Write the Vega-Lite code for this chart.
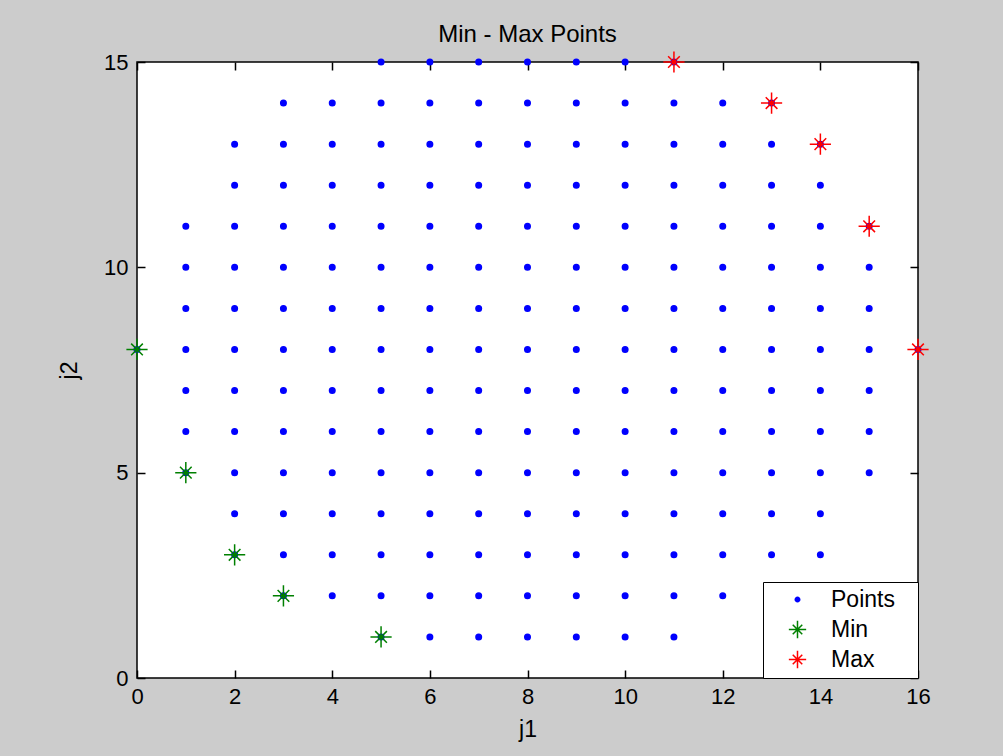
{
  "$schema": "https://vega.github.io/schema/vega-lite/v6.json",
  "width": 781,
  "height": 616,
  "autosize": "none",
  "padding": {"left": 137, "top": 62, "right": 85, "bottom": 78},
  "background": "#CCCCCC",
  "title": {"text": "Min - Max Points", "fontSize": 24, "fontWeight": "normal", "font": "Liberation Sans", "color": "#000000", "offset": 1},
  "config": {
    "view": {"fill": "#FFFFFF", "stroke": "#000000", "strokeWidth": 1.5},
    "axis": {
      "domainColor": "#000000", "domainWidth": 1.5, "tickColor": "#000000", "tickWidth": 1.5,
      "tickSize": -8, "grid": false, "labelFlush": false, "labelFont": "Liberation Sans", "labelFontSize": 22,
      "labelColor": "#000000", "titleFont": "Liberation Sans", "titleFontSize": 23,
      "titleFontWeight": "normal", "titleColor": "#000000"
    }
  },
  "data": {"values": [
    {"j1": 0, "j2": 8, "series": "Points"},
    {"j1": 1, "j2": 5, "series": "Points"}, {"j1": 1, "j2": 6, "series": "Points"}, {"j1": 1, "j2": 7, "series": "Points"}, {"j1": 1, "j2": 8, "series": "Points"}, {"j1": 1, "j2": 9, "series": "Points"}, {"j1": 1, "j2": 10, "series": "Points"}, {"j1": 1, "j2": 11, "series": "Points"},
    {"j1": 2, "j2": 3, "series": "Points"}, {"j1": 2, "j2": 4, "series": "Points"}, {"j1": 2, "j2": 5, "series": "Points"}, {"j1": 2, "j2": 6, "series": "Points"}, {"j1": 2, "j2": 7, "series": "Points"}, {"j1": 2, "j2": 8, "series": "Points"}, {"j1": 2, "j2": 9, "series": "Points"}, {"j1": 2, "j2": 10, "series": "Points"}, {"j1": 2, "j2": 11, "series": "Points"}, {"j1": 2, "j2": 12, "series": "Points"}, {"j1": 2, "j2": 13, "series": "Points"},
    {"j1": 3, "j2": 2, "series": "Points"}, {"j1": 3, "j2": 3, "series": "Points"}, {"j1": 3, "j2": 4, "series": "Points"}, {"j1": 3, "j2": 5, "series": "Points"}, {"j1": 3, "j2": 6, "series": "Points"}, {"j1": 3, "j2": 7, "series": "Points"}, {"j1": 3, "j2": 8, "series": "Points"}, {"j1": 3, "j2": 9, "series": "Points"}, {"j1": 3, "j2": 10, "series": "Points"}, {"j1": 3, "j2": 11, "series": "Points"}, {"j1": 3, "j2": 12, "series": "Points"}, {"j1": 3, "j2": 13, "series": "Points"}, {"j1": 3, "j2": 14, "series": "Points"},
    {"j1": 4, "j2": 2, "series": "Points"}, {"j1": 4, "j2": 3, "series": "Points"}, {"j1": 4, "j2": 4, "series": "Points"}, {"j1": 4, "j2": 5, "series": "Points"}, {"j1": 4, "j2": 6, "series": "Points"}, {"j1": 4, "j2": 7, "series": "Points"}, {"j1": 4, "j2": 8, "series": "Points"}, {"j1": 4, "j2": 9, "series": "Points"}, {"j1": 4, "j2": 10, "series": "Points"}, {"j1": 4, "j2": 11, "series": "Points"}, {"j1": 4, "j2": 12, "series": "Points"}, {"j1": 4, "j2": 13, "series": "Points"}, {"j1": 4, "j2": 14, "series": "Points"},
    {"j1": 5, "j2": 1, "series": "Points"}, {"j1": 5, "j2": 2, "series": "Points"}, {"j1": 5, "j2": 3, "series": "Points"}, {"j1": 5, "j2": 4, "series": "Points"}, {"j1": 5, "j2": 5, "series": "Points"}, {"j1": 5, "j2": 6, "series": "Points"}, {"j1": 5, "j2": 7, "series": "Points"}, {"j1": 5, "j2": 8, "series": "Points"}, {"j1": 5, "j2": 9, "series": "Points"}, {"j1": 5, "j2": 10, "series": "Points"}, {"j1": 5, "j2": 11, "series": "Points"}, {"j1": 5, "j2": 12, "series": "Points"}, {"j1": 5, "j2": 13, "series": "Points"}, {"j1": 5, "j2": 14, "series": "Points"}, {"j1": 5, "j2": 15, "series": "Points"},
    {"j1": 6, "j2": 1, "series": "Points"}, {"j1": 6, "j2": 2, "series": "Points"}, {"j1": 6, "j2": 3, "series": "Points"}, {"j1": 6, "j2": 4, "series": "Points"}, {"j1": 6, "j2": 5, "series": "Points"}, {"j1": 6, "j2": 6, "series": "Points"}, {"j1": 6, "j2": 7, "series": "Points"}, {"j1": 6, "j2": 8, "series": "Points"}, {"j1": 6, "j2": 9, "series": "Points"}, {"j1": 6, "j2": 10, "series": "Points"}, {"j1": 6, "j2": 11, "series": "Points"}, {"j1": 6, "j2": 12, "series": "Points"}, {"j1": 6, "j2": 13, "series": "Points"}, {"j1": 6, "j2": 14, "series": "Points"}, {"j1": 6, "j2": 15, "series": "Points"},
    {"j1": 7, "j2": 1, "series": "Points"}, {"j1": 7, "j2": 2, "series": "Points"}, {"j1": 7, "j2": 3, "series": "Points"}, {"j1": 7, "j2": 4, "series": "Points"}, {"j1": 7, "j2": 5, "series": "Points"}, {"j1": 7, "j2": 6, "series": "Points"}, {"j1": 7, "j2": 7, "series": "Points"}, {"j1": 7, "j2": 8, "series": "Points"}, {"j1": 7, "j2": 9, "series": "Points"}, {"j1": 7, "j2": 10, "series": "Points"}, {"j1": 7, "j2": 11, "series": "Points"}, {"j1": 7, "j2": 12, "series": "Points"}, {"j1": 7, "j2": 13, "series": "Points"}, {"j1": 7, "j2": 14, "series": "Points"}, {"j1": 7, "j2": 15, "series": "Points"},
    {"j1": 8, "j2": 1, "series": "Points"}, {"j1": 8, "j2": 2, "series": "Points"}, {"j1": 8, "j2": 3, "series": "Points"}, {"j1": 8, "j2": 4, "series": "Points"}, {"j1": 8, "j2": 5, "series": "Points"}, {"j1": 8, "j2": 6, "series": "Points"}, {"j1": 8, "j2": 7, "series": "Points"}, {"j1": 8, "j2": 8, "series": "Points"}, {"j1": 8, "j2": 9, "series": "Points"}, {"j1": 8, "j2": 10, "series": "Points"}, {"j1": 8, "j2": 11, "series": "Points"}, {"j1": 8, "j2": 12, "series": "Points"}, {"j1": 8, "j2": 13, "series": "Points"}, {"j1": 8, "j2": 14, "series": "Points"}, {"j1": 8, "j2": 15, "series": "Points"},
    {"j1": 9, "j2": 1, "series": "Points"}, {"j1": 9, "j2": 2, "series": "Points"}, {"j1": 9, "j2": 3, "series": "Points"}, {"j1": 9, "j2": 4, "series": "Points"}, {"j1": 9, "j2": 5, "series": "Points"}, {"j1": 9, "j2": 6, "series": "Points"}, {"j1": 9, "j2": 7, "series": "Points"}, {"j1": 9, "j2": 8, "series": "Points"}, {"j1": 9, "j2": 9, "series": "Points"}, {"j1": 9, "j2": 10, "series": "Points"}, {"j1": 9, "j2": 11, "series": "Points"}, {"j1": 9, "j2": 12, "series": "Points"}, {"j1": 9, "j2": 13, "series": "Points"}, {"j1": 9, "j2": 14, "series": "Points"}, {"j1": 9, "j2": 15, "series": "Points"},
    {"j1": 10, "j2": 1, "series": "Points"}, {"j1": 10, "j2": 2, "series": "Points"}, {"j1": 10, "j2": 3, "series": "Points"}, {"j1": 10, "j2": 4, "series": "Points"}, {"j1": 10, "j2": 5, "series": "Points"}, {"j1": 10, "j2": 6, "series": "Points"}, {"j1": 10, "j2": 7, "series": "Points"}, {"j1": 10, "j2": 8, "series": "Points"}, {"j1": 10, "j2": 9, "series": "Points"}, {"j1": 10, "j2": 10, "series": "Points"}, {"j1": 10, "j2": 11, "series": "Points"}, {"j1": 10, "j2": 12, "series": "Points"}, {"j1": 10, "j2": 13, "series": "Points"}, {"j1": 10, "j2": 14, "series": "Points"}, {"j1": 10, "j2": 15, "series": "Points"},
    {"j1": 11, "j2": 1, "series": "Points"}, {"j1": 11, "j2": 2, "series": "Points"}, {"j1": 11, "j2": 3, "series": "Points"}, {"j1": 11, "j2": 4, "series": "Points"}, {"j1": 11, "j2": 5, "series": "Points"}, {"j1": 11, "j2": 6, "series": "Points"}, {"j1": 11, "j2": 7, "series": "Points"}, {"j1": 11, "j2": 8, "series": "Points"}, {"j1": 11, "j2": 9, "series": "Points"}, {"j1": 11, "j2": 10, "series": "Points"}, {"j1": 11, "j2": 11, "series": "Points"}, {"j1": 11, "j2": 12, "series": "Points"}, {"j1": 11, "j2": 13, "series": "Points"}, {"j1": 11, "j2": 14, "series": "Points"}, {"j1": 11, "j2": 15, "series": "Points"},
    {"j1": 12, "j2": 2, "series": "Points"}, {"j1": 12, "j2": 3, "series": "Points"}, {"j1": 12, "j2": 4, "series": "Points"}, {"j1": 12, "j2": 5, "series": "Points"}, {"j1": 12, "j2": 6, "series": "Points"}, {"j1": 12, "j2": 7, "series": "Points"}, {"j1": 12, "j2": 8, "series": "Points"}, {"j1": 12, "j2": 9, "series": "Points"}, {"j1": 12, "j2": 10, "series": "Points"}, {"j1": 12, "j2": 11, "series": "Points"}, {"j1": 12, "j2": 12, "series": "Points"}, {"j1": 12, "j2": 13, "series": "Points"}, {"j1": 12, "j2": 14, "series": "Points"},
    {"j1": 13, "j2": 3, "series": "Points"}, {"j1": 13, "j2": 4, "series": "Points"}, {"j1": 13, "j2": 5, "series": "Points"}, {"j1": 13, "j2": 6, "series": "Points"}, {"j1": 13, "j2": 7, "series": "Points"}, {"j1": 13, "j2": 8, "series": "Points"}, {"j1": 13, "j2": 9, "series": "Points"}, {"j1": 13, "j2": 10, "series": "Points"}, {"j1": 13, "j2": 11, "series": "Points"}, {"j1": 13, "j2": 12, "series": "Points"}, {"j1": 13, "j2": 13, "series": "Points"}, {"j1": 13, "j2": 14, "series": "Points"},
    {"j1": 14, "j2": 3, "series": "Points"}, {"j1": 14, "j2": 4, "series": "Points"}, {"j1": 14, "j2": 5, "series": "Points"}, {"j1": 14, "j2": 6, "series": "Points"}, {"j1": 14, "j2": 7, "series": "Points"}, {"j1": 14, "j2": 8, "series": "Points"}, {"j1": 14, "j2": 9, "series": "Points"}, {"j1": 14, "j2": 10, "series": "Points"}, {"j1": 14, "j2": 11, "series": "Points"}, {"j1": 14, "j2": 12, "series": "Points"}, {"j1": 14, "j2": 13, "series": "Points"},
    {"j1": 15, "j2": 5, "series": "Points"}, {"j1": 15, "j2": 6, "series": "Points"}, {"j1": 15, "j2": 7, "series": "Points"}, {"j1": 15, "j2": 8, "series": "Points"}, {"j1": 15, "j2": 9, "series": "Points"}, {"j1": 15, "j2": 10, "series": "Points"}, {"j1": 15, "j2": 11, "series": "Points"},
    {"j1": 16, "j2": 8, "series": "Points"},
    {"j1": 0, "j2": 8, "series": "Min"}, {"j1": 1, "j2": 5, "series": "Min"}, {"j1": 2, "j2": 3, "series": "Min"}, {"j1": 3, "j2": 2, "series": "Min"}, {"j1": 5, "j2": 1, "series": "Min"},
    {"j1": 11, "j2": 15, "series": "Max"}, {"j1": 13, "j2": 14, "series": "Max"}, {"j1": 14, "j2": 13, "series": "Max"}, {"j1": 15, "j2": 11, "series": "Max"}, {"j1": 16, "j2": 8, "series": "Max"}
  ]},
  "layer": [
    {
      "mark": {"type": "point", "filled": true, "opacity": 1, "size": 450, "strokeWidth": 1.5, "clip": false},
      "encoding": {
        "x": {"field": "j1", "type": "quantitative", "scale": {"domain": [0, 16], "nice": false, "zero": false},
          "axis": {"title": "j1", "values": [0, 2, 4, 6, 8, 10, 12, 14, 16], "labelPadding": 16, "titlePadding": 11, "domain": false}},
        "y": {"field": "j2", "type": "quantitative", "scale": {"domain": [0, 15], "nice": false, "zero": false},
          "axis": {"title": "j2", "values": [0, 5, 10, 15], "labelPadding": 17, "titlePadding": 22, "domain": false}},
        "fill": {"field": "series", "type": "nominal", "sort": null,
          "scale": {"domain": ["Points", "Min", "Max"], "range": ["#0000FF", "#008000", "#FF0000"]},
          "legend": {"title": null, "orient": "bottom-right", "offset": 0, "fillColor": "#FFFFFF", "strokeColor": "#000000",
            "padding": 6, "symbolOffset": 17, "labelOffset": 22, "labelFontSize": 23, "labelFont": "Liberation Sans",
            "labelColor": "#000000", "rowPadding": 5, "symbolSize": 300, "symbolStrokeWidth": 1.5, "labelLimit": 300,
            "labelExpr": "datum.label + '\u2800'"}},
        "stroke": {"field": "series", "type": "nominal", "sort": null,
          "scale": {"domain": ["Points", "Min", "Max"], "range": ["#0000FF", "#008000", "#FF0000"]}},
        "shape": {"field": "series", "type": "nominal", "sort": null,
          "scale": {"domain": ["Points", "Min", "Max"], "range": [
            "M-0.26,0A0.26,0.26 0 1,0 0.26,0A0.26,0.26 0 1,0 -0.26,0Z",
            "M-1,0L1,0M0,-1L0,1M-0.55,-0.55L0.55,0.55M-0.55,0.55L0.55,-0.55",
            "M-1,0L1,0M0,-1L0,1M-0.55,-0.55L0.55,0.55M-0.55,0.55L0.55,-0.55"]}}
      }
    },
    {
      "mark": {"type": "point", "opacity": 0},
      "encoding": {
        "x": {"field": "j1", "type": "quantitative", "axis": {"orient": "top", "labels": false, "title": null, "domain": false, "values": [0, 2, 4, 6, 8, 10, 12, 14, 16]}},
        "y": {"field": "j2", "type": "quantitative", "axis": {"orient": "right", "labels": false, "title": null, "domain": false, "values": [0, 5, 10, 15]}}
      }
    }
  ],
  "resolve": {"axis": {"x": "independent", "y": "independent"}}
}
